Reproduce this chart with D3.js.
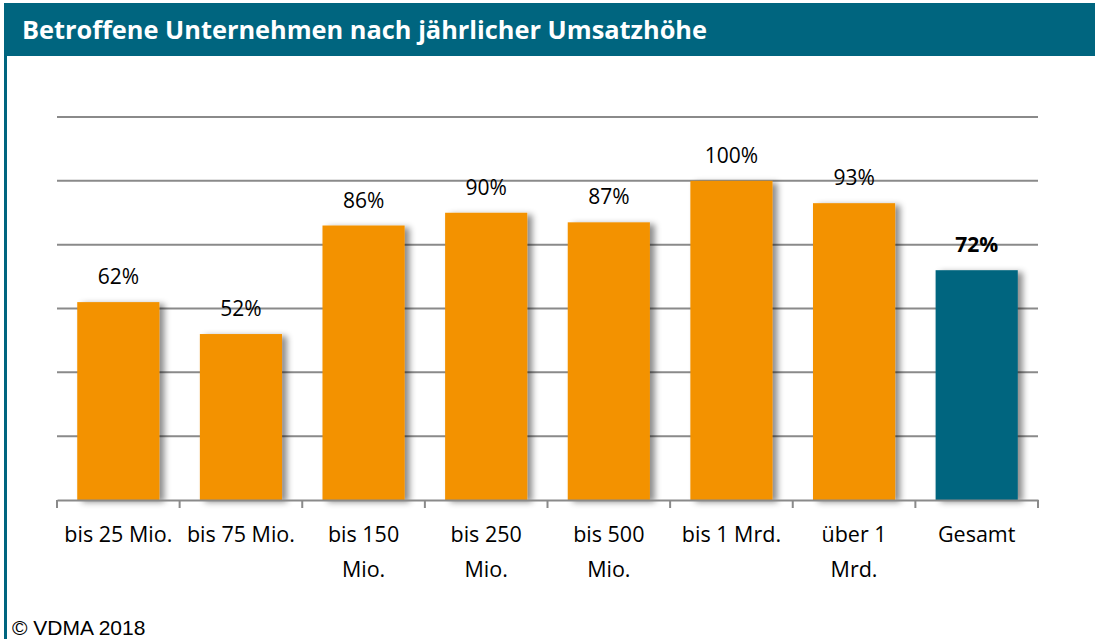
<!DOCTYPE html>
<html>
<head>
<meta charset="utf-8">
<script src="https://cdn.jsdelivr.net/npm/d3@7.9.0/dist/d3.min.js"></script>
<style>
  body { margin: 0; background: #fff; }
  svg { display: block; }
</style>
</head>
<body>
<div id="chart"></div>
<script>
// data
const categories = ["bis 25 Mio.", "bis 75 Mio.", "bis 150 Mio.", "bis 250 Mio.", "bis 500 Mio.", "bis 1 Mrd.", "über 1 Mrd.", "Gesamt"];
const catLines = [["bis 25 Mio."], ["bis 75 Mio."], ["bis 150", "Mio."], ["bis 250", "Mio."], ["bis 500", "Mio."], ["bis 1 Mrd."], ["über 1", "Mrd."], ["Gesamt"]];
const values = [62, 52, 86, 90, 87, 100, 93, 72];
const yTicks = [0, 20, 40, 60, 80, 100, 120];

const W = 1095, H = 639;
const teal = "#00657f", orange = "#f39200";

const svg = d3.select("#chart").append("svg")
    .attr("width", W).attr("height", H);

const defs = svg.append("defs");
const f = defs.append("filter").attr("id", "shadow")
    .attr("x", "-10%").attr("y", "-10%").attr("width", "130%").attr("height", "120%");
f.append("feDropShadow").attr("dx", 5).attr("dy", 2)
    .attr("stdDeviation", 3).attr("flood-color", "#000").attr("flood-opacity", 0.45);

// header + frame
svg.append("rect").attr("x", 4).attr("y", 3).attr("width", W - 4).attr("height", 53).attr("fill", teal);
svg.append("rect").attr("x", 4).attr("y", 56).attr("width", 3).attr("height", H - 56).attr("fill", teal);
svg.append("text")
    .attr("x", 22).attr("y", 39)
    .attr("fill", "#fff")
    .style("font-family", "'Open Sans', sans-serif")
    .style("font-weight", "bold")
    .style("font-size", "25px")
    .attr("textLength", 685)
    .attr("lengthAdjust", "spacingAndGlyphs")
    .text("Betroffene Unternehmen nach jährlicher Umsatzhöhe");

const x = d3.scaleBand().domain(categories).range([57, 1038]).paddingInner(0.33).paddingOuter(0.165);
const y = d3.scaleLinear().domain([0, 120]).range([500, 117]);

// gridlines
svg.append("g").selectAll("line").data(yTicks.slice(1)).join("line")
    .attr("x1", 57).attr("x2", 1038)
    .attr("y1", d => y(d)).attr("y2", d => y(d))
    .attr("stroke", "#8a8a8a").attr("stroke-width", 2);

// bars
svg.append("g").selectAll("rect").data(values).join("rect")
    .attr("x", (d, i) => x(categories[i]))
    .attr("y", d => y(d))
    .attr("width", x.bandwidth())
    .attr("height", d => y(0) - y(d))
    .attr("fill", (d, i) => categories[i] === "Gesamt" ? teal : orange)
    .attr("filter", "url(#shadow)");

// x axis
const xAxis = d3.axisBottom(x).tickSize(0).tickFormat("");
const gx = svg.append("g").attr("transform", "translate(0,500)").call(xAxis);
gx.select(".domain").attr("stroke", "#8a8a8a").attr("stroke-width", 2);
const step = x.step();
const bounds = d3.range(categories.length + 1).map(i => 57 + i * step);
gx.selectAll(".sep").data(bounds).join("line").attr("class", "sep")
    .attr("x1", d => d).attr("x2", d => d).attr("y1", 0).attr("y2", 8)
    .attr("stroke", "#8a8a8a").attr("stroke-width", 2);

// category labels
const cl = svg.append("g").selectAll("text").data(categories).join("text")
    .attr("x", d => x(d) + x.bandwidth() / 2)
    .attr("y", 542)
    .attr("text-anchor", "middle")
    .attr("fill", "#000")
    .style("font-family", "'Open Sans', sans-serif")
    .style("font-size", "21.5px");
cl.each(function (d, i) {
    d3.select(this).selectAll("tspan").data(catLines[i]).join("tspan")
        .attr("x", x(d) + x.bandwidth() / 2)
        .attr("dy", (t, j) => j === 0 ? 0 : 35)
        .text(t => t);
});

// value labels
svg.append("g").selectAll("text").data(values).join("text")
    .attr("x", (d, i) => x(categories[i]) + x.bandwidth() / 2)
    .attr("y", d => y(d) - 18)
    .attr("text-anchor", "middle")
    .attr("fill", "#000")
    .style("font-family", "'Open Sans', sans-serif")
    .style("font-size", "21px")
    .style("font-weight", (d, i) => categories[i] === "Gesamt" ? "bold" : "normal")
    .text(d => d + "%");

svg.append("text")
    .attr("x", 12).attr("y", 635)
    .attr("fill", "#000")
    .style("font-family", "'Liberation Sans', Arial, sans-serif")
    .style("font-size", "21px")
    .text("© VDMA 2018");
</script>
</body>
</html>
